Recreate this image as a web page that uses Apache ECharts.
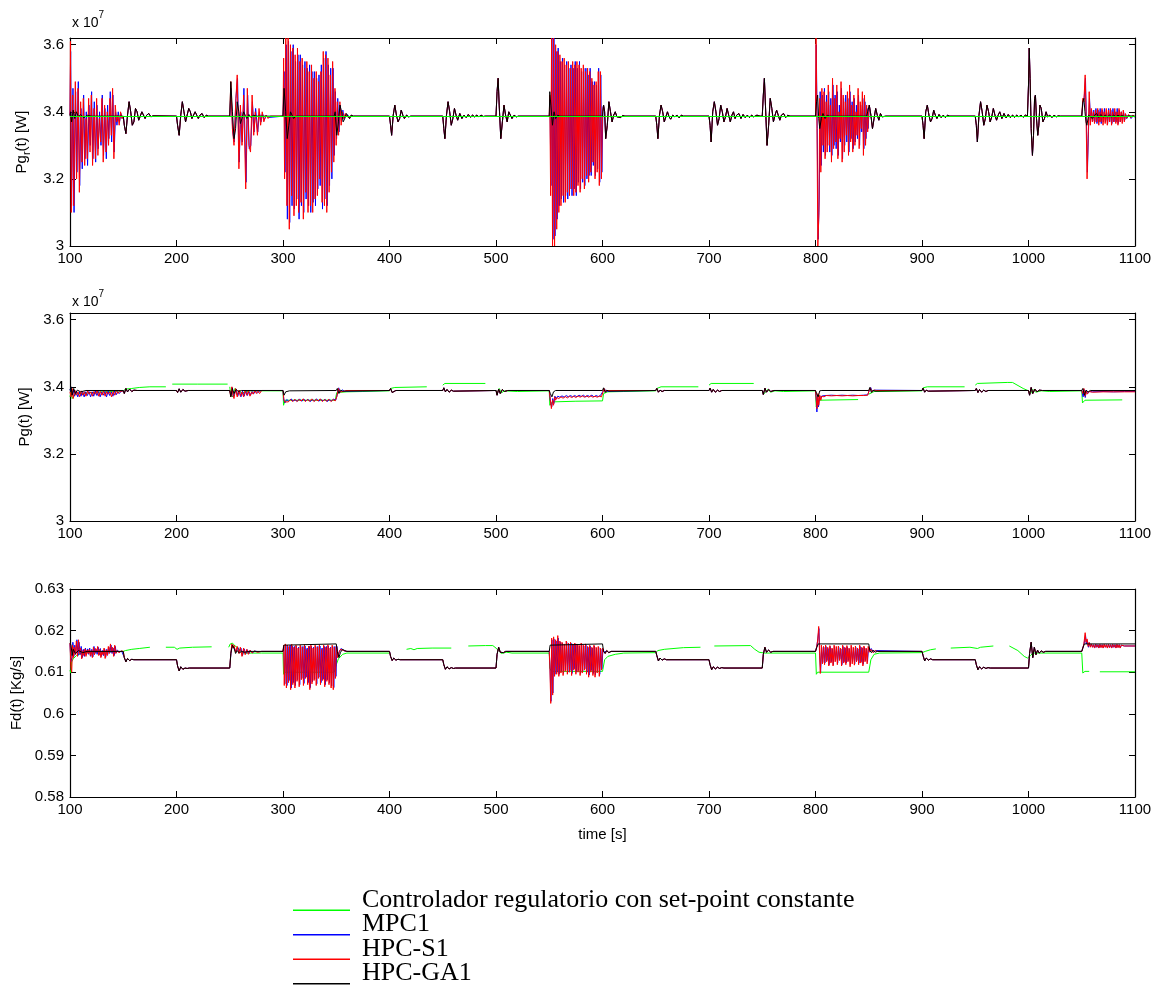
<!DOCTYPE html>
<html>
<head>
<meta charset="utf-8">
<script src="https://cdn.jsdelivr.net/npm/echarts@6/dist/echarts.min.js"></script>
<style>
  html, body { margin: 0; padding: 0; background: #fff; }
  #chart { width: 1164px; height: 1002px; }
</style>
</head>
<body>
<div id="chart"></div>
<script>
var seriesNames = ['Controlador regulatorio con set-point constante', 'MPC1', 'HPC-S1', 'HPC-GA1'];
var seriesColors = ['#00ff00', '#0000ff', '#ff0000', '#000000'];
var xTicks = [100, 200, 300, 400, 500, 600, 700, 800, 900, 1000, 1100];

// ---- Pg_r(t), values in 1e7 W ----
var pgrGreen = [[100, 3.386], [1100, 3.386]];
var pgrBlack = [[100,3.387],[100.5,3.40],[101.5,3.37],[103,3.405],[104.5,3.38],[106,3.40],[108,3.385],[110,3.392],[113,3.382],[116,3.39],[120,3.387],[150,3.387],[151,3.36],[152.5,3.335],[154,3.39],[155.5,3.43],[157,3.40],[158.5,3.36],[160,3.37],[161.5,3.41],[163,3.40],[164.5,3.375],[166,3.38],[167.5,3.40],[169,3.395],[170.5,3.38],[172,3.39],[174,3.395],[176,3.385],[178,3.388],[200,3.387],[201,3.36],[202.5,3.33],[204,3.39],[205.5,3.43],[207,3.40],[208.5,3.37],[210,3.375],[211.5,3.41],[213,3.40],[214.5,3.38],[216,3.38],[217.5,3.40],[219,3.39],[220.5,3.38],[222,3.39],[224,3.395],[226,3.383],[228,3.39],[230,3.387],[250,3.387],[251,3.49],[252.5,3.40],[254,3.32],[255.5,3.35],[257,3.43],[258.5,3.40],[260,3.365],[261.5,3.38],[263,3.40],[264.5,3.39],[266,3.38],[268,3.392],[270,3.383],[272,3.39],[275,3.387],[300,3.387],[301,3.47],[302.5,3.40],[304,3.32],[305.5,3.36],[307,3.40],[308.5,3.395],[310,3.38],[312,3.387],[348,3.387],[349,3.40],[350.5,3.33],[352,3.37],[353.5,3.42],[355,3.40],[356.5,3.37],[358,3.38],[359.5,3.395],[361,3.39],[362.5,3.38],[364,3.39],[366,3.387],[400,3.387],[401,3.36],[402,3.33],[403.5,3.39],[405,3.42],[406.5,3.39],[408,3.37],[409.5,3.38],[411,3.405],[412.5,3.39],[414,3.38],[416,3.39],[418,3.385],[420,3.387],[450,3.387],[451,3.35],[452,3.32],[453.5,3.39],[455,3.43],[456.5,3.40],[458,3.36],[459.5,3.38],[461,3.41],[462.5,3.39],[464,3.375],[466,3.395],[468,3.38],[470,3.39],[472,3.383],[474,3.392],[476,3.384],[478,3.39],[480,3.385],[482,3.39],[484,3.385],[486,3.39],[488,3.386],[490,3.387],[500,3.387],[501,3.46],[502,3.50],[503,3.42],[504.5,3.32],[506,3.37],[507.5,3.42],[509,3.39],[510.5,3.37],[512,3.40],[513.5,3.395],[515,3.38],[517,3.39],[519,3.385],[521,3.387],[550,3.387],[550.5,3.46],[551.5,3.42],[553,3.36],[554.5,3.40],[556,3.38],[558,3.39],[560,3.387],[600,3.387],[601,3.42],[602,3.40],[603,3.32],[604.5,3.36],[606,3.43],[607.5,3.40],[609,3.37],[610.5,3.39],[612,3.40],[613.5,3.385],[615,3.39],[617,3.383],[619,3.389],[621,3.387],[650,3.387],[651,3.36],[652,3.32],[653.5,3.39],[655,3.42],[656.5,3.40],[658,3.37],[659.5,3.385],[661,3.40],[662.5,3.385],[664,3.378],[666,3.39],[668,3.385],[670,3.39],[672,3.382],[674,3.39],[676,3.387],[700,3.387],[701,3.36],[702,3.31],[703.5,3.40],[705,3.43],[706.5,3.40],[708,3.36],[709.5,3.38],[711,3.42],[712.5,3.40],[714,3.37],[715.5,3.385],[717,3.41],[718.5,3.39],[720,3.37],[721.5,3.39],[723,3.40],[724.5,3.38],[726,3.39],[728,3.395],[730,3.38],[732,3.392],[734,3.383],[736,3.39],[738,3.383],[740,3.39],[742,3.385],[745,3.39],[748,3.387],[750,3.387],[751,3.45],[752,3.50],[753,3.42],[754.5,3.30],[756,3.36],[757.5,3.44],[759,3.41],[760.5,3.37],[762,3.39],[763.5,3.405],[765,3.39],[766.5,3.375],[768,3.39],[770,3.395],[772,3.383],[774,3.39],[776,3.387],[800,3.387],[801,3.43],[802,3.45],[803,3.38],[804,3.35],[805.5,3.38],[807,3.395],[809,3.38],[811,3.39],[813,3.387],[848,3.387],[849,3.40],[850.5,3.42],[852,3.39],[853.5,3.35],[855,3.38],[856.5,3.41],[858,3.39],[859.5,3.375],[861,3.395],[862.5,3.385],[864,3.39],[866,3.387],[900,3.387],[901,3.36],[902,3.32],[903.5,3.40],[905,3.42],[906.5,3.39],[908,3.37],[909.5,3.38],[911,3.405],[912.5,3.39],[914,3.38],[916,3.392],[918,3.383],[920,3.39],[922,3.383],[924,3.39],[926,3.387],[950,3.387],[951,3.36],[952,3.31],[953.5,3.39],[955,3.43],[956.5,3.40],[958,3.36],[959.5,3.38],[961,3.42],[962.5,3.40],[964,3.37],[965.5,3.385],[967,3.41],[968.5,3.39],[970,3.375],[971.5,3.39],[973,3.40],[975,3.38],[977,3.395],[979,3.382],[981,3.392],[983,3.383],[985,3.39],[987,3.384],[989,3.39],[991,3.385],[993,3.39],[995,3.384],[997,3.39],[999,3.387],[1000,3.48],[1000.7,3.59],[1001.5,3.50],[1002.5,3.35],[1003.7,3.27],[1004.7,3.33],[1005.7,3.44],[1006.5,3.45],[1007.5,3.38],[1008.7,3.33],[1009.7,3.36],[1010.7,3.42],[1012,3.41],[1013.5,3.37],[1015,3.38],[1016.5,3.40],[1018,3.385],[1020,3.39],[1022,3.383],[1024,3.39],[1026,3.385],[1028,3.388],[1030,3.387],[1050,3.387],[1051,3.43],[1052,3.44],[1053,3.40],[1054,3.37],[1054.8,3.36],[1056.5,3.39],[1058,3.395],[1060,3.38],[1062,3.39],[1064,3.395],[1066,3.383],[1068,3.392],[1070,3.384],[1072,3.39],[1074,3.385],[1076,3.39],[1078,3.385],[1080,3.39],[1082,3.385],[1084,3.39],[1086,3.386],[1088,3.389],[1090,3.386],[1095,3.388],[1100,3.387]];

var pgrRedBursts = [
  [[100,3.39],[100.4,3.61],[101.2,3.10],[102.5,3.45],[103.5,3.12],[105,3.49],[106.2,3.20],[107.5,3.47],[108.8,3.16],[110,3.43],[111.2,3.25],[112.5,3.44],[113.8,3.24],[115,3.38],[116.2,3.26],[117.5,3.44],[118.8,3.28],[120,3.45],[121.2,3.24],[122.5,3.41],[123.8,3.26],[125,3.44],[126.2,3.27],[127.5,3.38],[128.8,3.31],[130,3.44],[131.2,3.25],[132.5,3.42],[133.8,3.28],[135,3.40],[136.2,3.30],[137.5,3.44],[138.8,3.33],[140,3.47],[141.2,3.26],[142.5,3.42],[143.8,3.37],[145,3.39],[146.2,3.36],[147.5,3.40],[148.8,3.38],[150,3.387]],
  [[250,3.387],[251,3.49],[252.5,3.35],[254,3.30],[255.5,3.42],[257,3.51],[258.6,3.23],[260,3.42],[261.5,3.30],[263,3.45],[265,3.17],[266.5,3.47],[268,3.30],[269.5,3.28],[271,3.45],[272.5,3.33],[274,3.40],[276,3.33],[277.5,3.41],[279,3.36],[280.5,3.40],[282,3.37],[284,3.39],[286,3.38],[288,3.387]],
  [[300,3.387],[300.6,3.56],[301.5,3.20],[302.6,3.62],[303.7,3.12],[304.8,3.62],[305.9,3.05],[307,3.60],[308.1,3.15],[309.2,3.59],[310.3,3.09],[311.4,3.57],[312.5,3.12],[313.6,3.59],[314.7,3.10],[315.8,3.55],[316.9,3.13],[318,3.56],[319.1,3.08],[320.2,3.53],[321.3,3.16],[322.4,3.55],[323.5,3.10],[324.6,3.52],[325.7,3.12],[326.8,3.54],[327.9,3.10],[329,3.50],[330.1,3.14],[331.2,3.52],[332.3,3.15],[333.4,3.49],[334.5,3.20],[335.6,3.52],[336.7,3.13],[337.8,3.58],[338.9,3.12],[340,3.57],[341.1,3.10],[342.2,3.56],[343.3,3.16],[344.4,3.51],[345.5,3.22],[346.6,3.55],[347.7,3.25],[348.8,3.47],[349.9,3.30],[351,3.43],[352.2,3.33],[353.4,3.43],[354.6,3.36],[355.8,3.40],[357,3.38],[358.5,3.395],[360,3.387]],
  [[550,3.387],[550.5,3.45],[551.3,3.15],[552.2,3.62],[553.1,3.0],[554,3.62],[555,3.0],[556,3.60],[557,3.05],[558,3.58],[559,3.10],[560,3.57],[561,3.12],[562,3.55],[563,3.15],[564,3.56],[565,3.13],[566,3.54],[567,3.16],[568,3.55],[569,3.15],[570,3.53],[571,3.17],[572,3.55],[573,3.15],[574,3.54],[575,3.16],[576,3.55],[577,3.18],[578,3.54],[579,3.16],[580,3.53],[581,3.20],[582,3.54],[583,3.17],[584,3.52],[585,3.21],[586,3.53],[587,3.19],[588,3.52],[589,3.22],[590,3.50],[591,3.25],[592,3.48],[593,3.20],[594,3.49],[595,3.22],[596,3.52],[597,3.18],[598,3.52],[599,3.20],[600,3.40]],
  [[800,3.387],[800.5,3.62],[801.3,3.40],[802.2,3.00],[803.2,3.10],[804,3.44],[805,3.22],[806,3.47],[807,3.30],[808,3.46],[809,3.26],[810,3.43],[811,3.28],[812,3.48],[813,3.30],[814,3.42],[815,3.25],[816,3.50],[817,3.29],[818,3.44],[819,3.31],[820,3.48],[821,3.26],[822,3.40],[823,3.32],[824,3.49],[825,3.25],[826,3.45],[827,3.28],[828,3.43],[829,3.33],[830,3.46],[831,3.27],[832,3.48],[833,3.31],[834,3.42],[835,3.28],[836,3.45],[837,3.30],[838,3.40],[839,3.33],[840,3.47],[841,3.29],[842,3.43],[843,3.35],[844,3.46],[845,3.27],[846,3.45],[847,3.30],[848,3.42],[849,3.34],[850,3.40]],
  [[1050,3.387],[1051,3.44],[1052,3.43],[1053.2,3.51],[1054,3.40],[1055,3.20],[1056,3.32],[1057,3.46],[1058,3.36],[1059,3.41],[1060,3.37],[1061,3.40],[1062,3.365],[1063,3.405],[1064,3.37],[1065,3.41],[1066,3.36],[1067,3.40],[1068,3.37],[1069,3.41],[1070,3.36],[1071,3.40],[1072,3.365],[1073,3.41],[1074,3.36],[1075,3.405],[1076,3.37],[1077,3.41],[1078,3.36],[1079,3.40],[1080,3.37],[1081,3.41],[1082,3.365],[1083,3.40],[1084,3.36],[1085,3.41],[1086,3.37],[1087,3.40],[1088,3.365],[1089,3.405],[1090,3.37],[1091,3.395],[1092,3.38],[1094,3.392],[1096,3.382],[1098,3.39],[1100,3.385]]
];

var pgrBlueBursts = [
  [[100,3.39],[100.6,3.58],[101.5,3.12],[102.8,3.47],[103.8,3.10],[105.3,3.46],[106.5,3.22],[107.8,3.49],[109.1,3.18],[110.3,3.41],[111.5,3.23],[112.8,3.45],[114.1,3.26],[115.3,3.40],[116.5,3.24],[117.8,3.42],[119.1,3.30],[120.3,3.46],[121.5,3.26],[122.8,3.43],[124.1,3.25],[125.3,3.42],[126.5,3.29],[127.8,3.40],[129.1,3.30],[130.3,3.45],[131.5,3.27],[132.8,3.41],[134.1,3.26],[135.3,3.42],[136.5,3.32],[137.8,3.46],[139.1,3.31],[140.3,3.45],[141.5,3.28],[142.8,3.40],[144.1,3.36],[145.3,3.40],[146.5,3.37],[147.8,3.395],[149,3.38],[150,3.387]],
  [[250,3.387],[251.2,3.47],[252.8,3.34],[254.3,3.31],[255.8,3.44],[257.3,3.50],[258.9,3.25],[260.3,3.40],[261.8,3.31],[263.3,3.47],[265.3,3.19],[266.8,3.45],[268.3,3.29],[269.8,3.30],[271.3,3.43],[272.8,3.34],[274.3,3.41],[276.3,3.34],[277.8,3.40],[279.3,3.37],[280.8,3.395],[282.3,3.375],[284.3,3.39],[286.3,3.383],[288,3.387]],
  [[300,3.387],[301,3.52],[301.9,3.22],[303,3.60],[304.1,3.08],[305.2,3.61],[306.3,3.07],[307.4,3.58],[308.5,3.12],[309.6,3.60],[310.7,3.11],[311.8,3.55],[312.9,3.14],[314,3.57],[315.1,3.08],[316.2,3.57],[317.3,3.12],[318.4,3.54],[319.5,3.10],[320.6,3.55],[321.7,3.14],[322.8,3.53],[323.9,3.12],[325,3.54],[326.1,3.10],[327.2,3.52],[328.3,3.13],[329.4,3.52],[330.5,3.12],[331.6,3.50],[332.7,3.17],[333.8,3.51],[334.9,3.18],[336,3.54],[337.1,3.11],[338.2,3.56],[339.3,3.14],[340.4,3.58],[341.5,3.12],[342.6,3.54],[343.7,3.18],[344.8,3.53],[345.9,3.20],[347,3.53],[348.1,3.27],[349.2,3.46],[350.3,3.32],[351.4,3.44],[352.6,3.34],[353.8,3.42],[355,3.37],[356.2,3.405],[357.4,3.38],[358.9,3.39],[360,3.387]],
  [[550,3.387],[550.7,3.43],[551.6,3.18],[552.5,3.62],[553.5,3.02],[554.4,3.62],[555.4,3.03],[556.4,3.58],[557.4,3.08],[558.4,3.59],[559.4,3.12],[560.4,3.55],[561.4,3.14],[562.4,3.56],[563.4,3.13],[564.4,3.54],[565.4,3.15],[566.4,3.55],[567.4,3.14],[568.4,3.53],[569.4,3.17],[570.4,3.54],[571.4,3.15],[572.4,3.53],[573.4,3.17],[574.4,3.55],[575.4,3.15],[576.4,3.53],[577.4,3.19],[578.4,3.55],[579.4,3.17],[580.4,3.52],[581.4,3.19],[582.4,3.53],[583.4,3.18],[584.4,3.53],[585.4,3.20],[586.4,3.51],[587.4,3.21],[588.4,3.53],[589.4,3.21],[590.4,3.49],[591.4,3.24],[592.4,3.49],[593.4,3.21],[594.4,3.48],[595.4,3.23],[596.4,3.53],[597.4,3.19],[598.4,3.51],[599.4,3.22],[600.4,3.41]],
  [[800,3.387],[800.7,3.60],[801.6,3.35],[802.5,3.02],[803.5,3.14],[804.4,3.46],[805.4,3.24],[806.4,3.45],[807.4,3.28],[808.4,3.47],[809.4,3.27],[810.4,3.45],[811.4,3.30],[812.4,3.46],[813.4,3.28],[814.4,3.44],[815.4,3.27],[816.4,3.48],[817.4,3.30],[818.4,3.45],[819.4,3.29],[820.4,3.46],[821.4,3.27],[822.4,3.42],[823.4,3.31],[824.4,3.47],[825.4,3.26],[826.4,3.44],[827.4,3.30],[828.4,3.45],[829.4,3.31],[830.4,3.44],[831.4,3.28],[832.4,3.46],[833.4,3.32],[834.4,3.43],[835.4,3.29],[836.4,3.44],[837.4,3.31],[838.4,3.42],[839.4,3.32],[840.4,3.45],[841.4,3.30],[842.4,3.42],[843.4,3.34],[844.4,3.44],[845.4,3.29],[846.4,3.43],[847.4,3.32],[848.4,3.41],[849.4,3.35],[850.4,3.41]],
  [[1050,3.387],[1051.2,3.43],[1052.3,3.44],[1053.5,3.50],[1054.3,3.38],[1055.3,3.22],[1056.3,3.34],[1057.3,3.44],[1058.3,3.37],[1059.3,3.405],[1060.3,3.372],[1061.3,3.405],[1062.3,3.37],[1063.3,3.41],[1064.3,3.365],[1065.3,3.405],[1066.3,3.37],[1067.3,3.41],[1068.3,3.365],[1069.3,3.405],[1070.3,3.37],[1071.3,3.41],[1072.3,3.37],[1073.3,3.40],[1074.3,3.365],[1075.3,3.41],[1076.3,3.37],[1077.3,3.405],[1078.3,3.365],[1079.3,3.41],[1080.3,3.37],[1081.3,3.40],[1082.3,3.37],[1083.3,3.41],[1084.3,3.365],[1085.3,3.405],[1086.3,3.37],[1087.3,3.40],[1088.3,3.37],[1089.3,3.40],[1090.3,3.375],[1091.3,3.392],[1092.3,3.38],[1094.3,3.39],[1096.3,3.38],[1098.3,3.388],[1100,3.384]]
];

// ---- Pg(t), values in 1e7 W ----
var pgBlack = [[100,3.39],[101,3.40],[102,3.375],[103.5,3.395],[105,3.38],[107,3.39],[110,3.385],[115,3.389],[150,3.389],[151,3.38],[152.5,3.395],[154,3.385],[156,3.393],[158,3.386],[160,3.39],[163,3.389],[200,3.389],[201,3.383],[202.5,3.394],[204,3.384],[206,3.392],[208,3.387],[211,3.389],[250,3.389],[251,3.37],[252.5,3.395],[254,3.38],[256,3.392],[258,3.386],[261,3.389],[300,3.389],[301,3.375],[302.5,3.385],[304,3.38],[306,3.388],[350,3.389],[351,3.395],[352.5,3.38],[354,3.39],[356,3.387],[400,3.389],[401,3.395],[402.5,3.383],[404,3.385],[406,3.389],[450,3.389],[451,3.397],[452.5,3.385],[454,3.392],[456,3.384],[458,3.39],[460,3.387],[500,3.389],[501,3.375],[502.5,3.393],[504,3.38],[506,3.392],[508,3.386],[511,3.389],[550,3.389],[551,3.38],[552.5,3.37],[554,3.385],[556,3.389],[600,3.389],[601,3.397],[602.5,3.383],[604,3.39],[606,3.387],[650,3.389],[651,3.395],[652.5,3.384],[654,3.39],[656,3.386],[658,3.389],[700,3.389],[701,3.396],[702.5,3.384],[704,3.392],[706,3.384],[708,3.39],[710,3.386],[712,3.389],[750,3.389],[751,3.377],[752.5,3.396],[754,3.384],[756,3.392],[758,3.386],[761,3.389],[800,3.389],[801,3.38],[802.5,3.37],[804,3.388],[806,3.389],[850,3.389],[851,3.398],[852.5,3.383],[854,3.39],[856,3.387],[900,3.389],[901,3.396],[902.5,3.384],[904,3.39],[906,3.387],[950,3.389],[951,3.395],[952.5,3.383],[954,3.392],[956,3.384],[958,3.39],[960,3.386],[962,3.389],[1000,3.389],[1001,3.375],[1002.5,3.398],[1004,3.38],[1006,3.393],[1008,3.385],[1010,3.39],[1013,3.389],[1050,3.389],[1051,3.395],[1052.5,3.375],[1054,3.39],[1056,3.385],[1058,3.389],[1100,3.389]];

var pgGreen = [[100,3.37],[101,3.385],[102,3.365],[104,3.375],[107,3.38],[112,3.38],[120,3.383],[130,3.385],[140,3.386],[150,3.388],[152,3.393],[158,3.395],[165,3.398],[175,3.40],[190,3.40],[192,null],[196,3.408],[220,3.408],[248,3.408],[249,null],[250,3.40],[251,3.375],[253,3.37],[255,3.395],[257,3.375],[259,3.39],[261,3.38],[264,3.385],[270,3.388],[300,3.388],[300.5,3.345],[302,3.36],[349,3.36],[350.5,3.383],[360,3.385],[375,3.386],[400,3.388],[401,3.395],[405,3.398],[435,3.40],[436,null],[450,3.405],[452,3.41],[490,3.41],[491,null],[500,3.39],[501,3.38],[503,3.395],[505,3.382],[508,3.388],[520,3.386],[550,3.388],[550.5,3.345],[553,3.355],[575,3.357],[600,3.358],[601,3.38],[605,3.385],[620,3.386],[650,3.388],[651,3.395],[655,3.40],[690,3.40],[691,null],[700,3.405],[702,3.41],[742,3.41],[743,null],[750,3.388],[752,3.38],[755,3.392],[758,3.384],[762,3.388],[770,3.386],[800,3.388],[800.7,3.34],[803,3.36],[840,3.362],[841,null],[850,3.378],[855,3.386],[900,3.388],[901,3.397],[905,3.40],[940,3.40],[941,null],[950,3.405],[952,3.41],[980,3.413],[985,3.413],[995,3.395],[1000,3.388],[1002,3.38],[1004,3.392],[1007,3.384],[1012,3.388],[1020,3.386],[1050,3.388],[1050.7,3.352],[1053,3.36],[1088,3.361]];

var pgRedBursts = [
  [[100,3.385],[101,3.37],[102,3.395],[103,3.365],[104.5,3.39],[106,3.375],[107.5,3.385],[109,3.37],[110.5,3.388],[112,3.375],[113.5,3.385],[115,3.372],[116.5,3.388],[118,3.378],[119.5,3.385],[121,3.372],[122.5,3.386],[124,3.378],[125.5,3.39],[127,3.372],[128.5,3.386],[130,3.375],[131.5,3.388],[133,3.372],[134.5,3.386],[136,3.378],[137.5,3.385],[139,3.37],[140.5,3.386],[142,3.375],[143.5,3.39],[145,3.38],[146.5,3.386],[148,3.382],[150,3.388]],
  [[250,3.389],[251,3.37],[252,3.40],[253,3.375],[254,3.365],[255.5,3.395],[257,3.37],[258.5,3.39],[260,3.372],[261.5,3.385],[263,3.37],[264.5,3.39],[266,3.375],[267.5,3.388],[269,3.372],[270.5,3.385],[272,3.378],[273.5,3.39],[275,3.38],[276.5,3.387],[278,3.38],[280,3.389]],
  [[300,3.389],[300.7,3.365],[301.5,3.355],[303,3.36],[305,3.355],[307,3.362],[309,3.356],[311,3.363],[313,3.356],[315,3.362],[317,3.358],[319,3.364],[321,3.356],[323,3.362],[325,3.357],[327,3.364],[329,3.356],[331,3.362],[333,3.358],[335,3.364],[337,3.356],[339,3.362],[341,3.357],[343,3.363],[345,3.356],[347,3.362],[349,3.358],[350.5,3.37],[352,3.395],[353.5,3.385],[355,3.39],[357,3.386],[359,3.389]],
  [[550,3.389],[551,3.36],[552,3.335],[553,3.36],[554,3.345],[555,3.37],[556,3.36],[557,3.368],[559,3.365],[561,3.37],[563,3.366],[565,3.371],[567,3.367],[569,3.372],[571,3.368],[573,3.372],[575,3.368],[577,3.373],[579,3.369],[581,3.373],[583,3.369],[585,3.373],[587,3.369],[589,3.373],[591,3.369],[593,3.372],[595,3.369],[597,3.372],[599,3.37],[600.5,3.385],[601.5,3.395],[603,3.386],[605,3.389]],
  [[800,3.389],[800.8,3.36],[801.5,3.335],[802.3,3.38],[803,3.345],[804,3.375],[805,3.36],[806,3.372],[808,3.37],[810,3.374],[815,3.373],[820,3.374],[825,3.373],[830,3.374],[835,3.373],[840,3.374],[845,3.374],[849,3.375],[850.5,3.39],[851.5,3.397],[853,3.385],[855,3.39],[857,3.389]],
  [[1050,3.389],[1051,3.38],[1052,3.395],[1053,3.372],[1054,3.388],[1055,3.378],[1057,3.386],[1060,3.384],[1070,3.385],[1080,3.385],[1090,3.385],[1100,3.385]]
];

var pgBlueBursts = [
  [[100,3.39],[100.8,3.398],[101.8,3.375],[103,3.39],[104.3,3.372],[105.8,3.388],[107.3,3.37],[108.8,3.385],[110.3,3.372],[111.8,3.386],[113.3,3.37],[114.8,3.385],[116.3,3.374],[117.8,3.386],[119.3,3.37],[120.8,3.385],[122.3,3.372],[123.8,3.388],[125.3,3.374],[126.8,3.386],[128.3,3.37],[129.8,3.385],[131.3,3.375],[132.8,3.386],[134.3,3.37],[135.8,3.387],[137.3,3.374],[138.8,3.385],[140.3,3.372],[141.8,3.388],[143.3,3.376],[144.8,3.386],[146.3,3.38],[147.8,3.386],[150,3.388]],
  [[250,3.389],[251.2,3.375],[252.3,3.398],[253.4,3.37],[254.5,3.368],[256,3.392],[257.5,3.372],[259,3.388],[260.5,3.37],[262,3.387],[263.5,3.372],[265,3.388],[266.5,3.374],[268,3.386],[269.5,3.375],[271,3.386],[272.5,3.379],[274,3.388],[276,3.382],[278,3.387],[280,3.389]],
  [[300,3.389],[300.8,3.36],[301.8,3.352],[303.5,3.362],[305.5,3.357],[307.5,3.364],[309.5,3.358],[311.5,3.361],[313.5,3.357],[315.5,3.364],[317.5,3.357],[319.5,3.363],[321.5,3.358],[323.5,3.363],[325.5,3.356],[327.5,3.362],[329.5,3.358],[331.5,3.364],[333.5,3.357],[335.5,3.362],[337.5,3.358],[339.5,3.363],[341.5,3.356],[343.5,3.362],[345.5,3.358],[347.5,3.363],[349.5,3.36],[350.8,3.375],[352.3,3.397],[353.8,3.384],[355.5,3.391],[357.5,3.387],[359,3.389]],
  [[550,3.389],[551.2,3.355],[552.3,3.34],[553.3,3.365],[554.3,3.35],[555.3,3.372],[556.5,3.364],[558,3.372],[560,3.369],[562,3.373],[564,3.369],[566,3.374],[568,3.37],[570,3.374],[572,3.37],[574,3.374],[576,3.37],[578,3.375],[580,3.371],[582,3.375],[584,3.37],[586,3.374],[588,3.371],[590,3.375],[592,3.37],[594,3.374],[596,3.371],[598,3.374],[599.5,3.372],[600.8,3.388],[601.8,3.394],[603.3,3.386],[605,3.389]],
  [[800,3.389],[800.6,3.37],[801.3,3.325],[802,3.372],[802.8,3.34],[803.8,3.368],[805,3.365],[806.5,3.373],[810,3.374],[815,3.375],[820,3.374],[825,3.375],[830,3.374],[835,3.375],[840,3.374],[845,3.375],[849,3.376],[850.8,3.392],[851.8,3.398],[853.3,3.386],[855.3,3.39],[857,3.389]],
  [[1050,3.389],[1051.3,3.37],[1052.3,3.392],[1053.3,3.368],[1054.3,3.39],[1055.5,3.38],[1057.5,3.386],[1060,3.385],[1070,3.386],[1080,3.385],[1090,3.386],[1100,3.386]]
];

// ---- Fd(t), Kg/s ----
var fdBlack = [[100,0.617],[101,0.6165],[102,0.614],[103,0.6155],[105,0.6145],[108,0.6152],[112,0.6147],[116,0.615],[150,0.615],[151,0.6135],[152.5,0.6125],[154,0.6133],[156,0.6128],[158,0.6131],[160,0.613],[200,0.613],[201,0.6115],[202.5,0.6103],[204,0.6113],[206,0.6107],[208,0.611],[210,0.6109],[212,0.611],[250,0.611],[251,0.6145],[252.5,0.6165],[254,0.6158],[255.5,0.6145],[257,0.6152],[259,0.6146],[261,0.615],[264,0.6148],[268,0.615],[300,0.615],[300.8,0.6165],[302,0.6168],[350,0.6168],[351,0.615],[352.5,0.6135],[354,0.6148],[356,0.6155],[358,0.6152],[360,0.615],[400,0.615],[401,0.6138],[402.5,0.6128],[404,0.6134],[406,0.6129],[408,0.6131],[410,0.613],[450,0.613],[451,0.6118],[452.5,0.6107],[454,0.6113],[456,0.6108],[458,0.6111],[460,0.6109],[462,0.611],[500,0.611],[501,0.6143],[502.5,0.616],[504,0.6148],[505.5,0.6152],[507,0.6147],[509,0.615],[550,0.615],[550.8,0.6165],[552,0.6168],[600,0.6168],[601,0.615],[602.5,0.6145],[604,0.6152],[606,0.6147],[608,0.615],[650,0.615],[651,0.614],[652.5,0.6127],[654,0.6134],[656,0.6129],[658,0.6132],[660,0.613],[700,0.613],[701,0.6118],[702.5,0.6106],[704,0.6113],[706,0.6108],[708,0.6112],[710,0.6109],[712,0.6111],[714,0.611],[750,0.611],[751,0.6143],[752.5,0.616],[754,0.6148],[756,0.6153],[758,0.6148],[760,0.615],[800,0.615],[801,0.6158],[802.5,0.6168],[850,0.6168],[851,0.6152],[852.5,0.6147],[854,0.6153],[856,0.6148],[858,0.615],[900,0.615],[901,0.614],[902.5,0.6127],[904,0.6134],[906,0.6129],[908,0.6132],[910,0.613],[950,0.613],[951,0.6118],[952.5,0.6106],[954,0.6113],[956,0.6108],[958,0.6112],[960,0.6109],[962,0.6111],[964,0.611],[1000,0.611],[1001,0.6145],[1002.5,0.6172],[1004,0.6135],[1005.5,0.616],[1007,0.6142],[1008.5,0.6153],[1010,0.6146],[1012,0.6151],[1014,0.6148],[1016,0.615],[1050,0.615],[1051,0.6158],[1052.5,0.6168],[1100,0.6168]];

var fdGreen = [[100,0.6105],[100.7,0.6098],[101.5,0.6125],[103,0.6132],[106,0.614],[110,0.6145],[120,0.6148],[150,0.615],[152,0.6152],[158,0.6155],[165,0.6157],[175,0.616],[176,null],[190,0.616],[198,0.616],[200.5,0.6155],[203,0.6158],[215,0.616],[233,0.6161],[234,null],[249,0.616],[250.5,0.6168],[252.5,0.617],[255,0.6163],[258,0.6158],[261,0.6148],[264,0.6146],[280,0.6146],[300,0.6146],[300.5,0.6095],[302,0.61],[348,0.61],[350,0.6118],[352,0.6132],[356,0.6143],[360,0.6146],[400,0.6146],[401,null],[416,0.6155],[420,0.6157],[423,0.6154],[426,0.6157],[440,0.6158],[458,0.6158],[459,null],[474,0.6163],[490,0.6164],[497,0.6164],[500,0.6158],[503,0.615],[505,0.6145],[510,0.6148],[515,0.6146],[550,0.6146],[550.5,0.611],[552,0.6102],[600,0.6102],[602,0.613],[605,0.6138],[612,0.6143],[620,0.6146],[650,0.6147],[652,0.6152],[658,0.6155],[676,0.6159],[692,0.616],[693,null],[705,0.6163],[739,0.6164],[743,0.6155],[747,0.6148],[752,0.6146],[800,0.6146],[800.8,0.6095],[802,0.61],[850,0.61],[852,0.613],[855,0.6143],[860,0.6146],[900,0.6147],[903,0.615],[908,0.6154],[913,0.6156],[914,null],[927,0.6158],[945,0.616],[952,0.6157],[955,0.616],[967,0.6163],[968,null],[982,0.6163],[990,0.6152],[996,0.6138],[999,0.6134],[1000,0.6132],[1002,0.614],[1004,0.6146],[1050,0.6146],[1051,0.6098],[1053,0.6102],[1057,0.6102],[1058,null],[1067,0.6101],[1100,0.6101]];

var fdRedBursts = [
  [[100,0.617],[100.8,0.6115],[101.6,0.61],[102.4,0.6165],[103.2,0.6135],[104,0.616],[105,0.6142],[106,0.6175],[107,0.6138],[108,0.6178],[109,0.6145],[110,0.6158],[111,0.6132],[112,0.6152],[113,0.614],[114,0.6156],[115,0.6138],[116,0.6153],[117,0.6145],[118,0.6155],[119,0.614],[120,0.6152],[121,0.6135],[122,0.616],[123,0.6142],[124,0.6157],[125,0.6148],[126,0.6162],[127,0.614],[128,0.6155],[129,0.6135],[130,0.615],[131,0.6142],[132,0.6158],[133,0.6133],[134,0.6153],[135,0.614],[136,0.6162],[137,0.6145],[138,0.6168],[139,0.6148],[140,0.616],[141,0.6138],[142,0.6165],[143,0.6145],[144,0.6152],[146,0.6147],[148,0.6151],[150,0.615]],
  [[250,0.611],[251,0.6145],[252,0.6168],[253,0.6158],[254,0.6165],[255.5,0.6148],[257,0.6162],[258.5,0.6145],[260,0.616],[261.5,0.6138],[263,0.6158],[264.5,0.6142],[266,0.6155],[267.5,0.6143],[269,0.6153],[271,0.6146],[273,0.6151],[276,0.6148],[280,0.615]],
  [[300,0.615],[300.6,0.6165],[301.2,0.6068],[302.2,0.6168],[303.2,0.6062],[304.2,0.6165],[305.2,0.6075],[306.2,0.6162],[307.2,0.6058],[308.2,0.6167],[309.2,0.607],[310.2,0.616],[311.2,0.6062],[312.2,0.6165],[313.2,0.6078],[314.2,0.6158],[315.2,0.6065],[316.2,0.6165],[317.2,0.6082],[318.2,0.616],[319.2,0.6068],[320.2,0.6166],[321.2,0.6085],[322.2,0.6155],[323.2,0.607],[324.2,0.6163],[325.2,0.6058],[326.2,0.6165],[327.2,0.6072],[328.2,0.6158],[329.2,0.608],[330.2,0.6165],[331.2,0.6068],[332.2,0.616],[333.2,0.6085],[334.2,0.6166],[335.2,0.607],[336.2,0.6155],[337.2,0.608],[338.2,0.6165],[339.2,0.6065],[340.2,0.616],[341.2,0.6078],[342.2,0.6166],[343.2,0.607],[344.2,0.6158],[345.2,0.6062],[346.2,0.6165],[347.2,0.6058],[348.2,0.616],[349.2,0.6085],[350.2,0.6165],[351.2,0.6135],[352.5,0.6148],[354,0.6155],[355.5,0.6158],[357,0.6152],[360,0.615]],
  [[550,0.615],[550.6,0.6115],[551.4,0.6025],[552.3,0.6182],[553.2,0.6045],[554.1,0.6185],[555,0.609],[556,0.6178],[557,0.6095],[558,0.6188],[559,0.609],[560,0.6175],[561,0.6098],[562,0.6172],[563,0.6092],[564,0.6168],[565,0.6102],[566,0.6175],[567,0.6095],[568,0.617],[569,0.61],[570,0.6172],[571,0.6092],[572,0.6168],[573,0.6105],[574,0.617],[575,0.6095],[576,0.6168],[577,0.61],[578,0.6165],[579,0.6092],[580,0.617],[581,0.6098],[582,0.6165],[583,0.6105],[584,0.6168],[585,0.6095],[586,0.6162],[587,0.6088],[588,0.6165],[589,0.61],[590,0.616],[591,0.6092],[592,0.6165],[593,0.6088],[594,0.616],[595,0.6098],[596,0.6162],[597,0.609],[598,0.6158],[599,0.6105],[600,0.6158],[601,0.615],[602.5,0.6145],[604,0.6152]],
  [[800,0.615],[801,0.616],[802,0.6175],[803,0.621],[803.8,0.6145],[804.5,0.6097],[805.5,0.6165],[806.5,0.612],[807.5,0.6162],[808.5,0.6118],[809.5,0.6165],[810.5,0.6125],[811.5,0.616],[812.5,0.6115],[813.5,0.6164],[814.5,0.6122],[815.5,0.6158],[816.5,0.6115],[817.5,0.6165],[818.5,0.6125],[819.5,0.6162],[820.5,0.6118],[821.5,0.6163],[822.5,0.6128],[823.5,0.6158],[824.5,0.6115],[825.5,0.6165],[826.5,0.6122],[827.5,0.616],[828.5,0.6118],[829.5,0.6164],[830.5,0.6125],[831.5,0.6158],[832.5,0.6113],[833.5,0.6165],[834.5,0.612],[835.5,0.616],[836.5,0.6117],[837.5,0.6163],[838.5,0.6125],[839.5,0.6158],[840.5,0.6118],[841.5,0.6165],[842.5,0.6122],[843.5,0.616],[844.5,0.6115],[845.5,0.6163],[846.5,0.6125],[847.5,0.6158],[848.5,0.612],[849.5,0.6162],[850.5,0.6148],[852,0.6155],[854,0.6147],[856,0.6152],[858,0.615]],
  [[1050,0.615],[1051,0.6158],[1052,0.6168],[1053.2,0.6195],[1054,0.6172],[1055,0.618],[1056,0.6162],[1057,0.6172],[1058,0.616],[1059,0.6168],[1060,0.616],[1061,0.6166],[1062,0.6158],[1063,0.6167],[1064,0.616],[1065,0.6166],[1066,0.6158],[1067,0.6167],[1068,0.6159],[1069,0.6166],[1070,0.6158],[1071,0.6167],[1072,0.616],[1073,0.6166],[1074,0.6158],[1075,0.6167],[1076,0.6159],[1077,0.6166],[1078,0.6158],[1079,0.6167],[1080,0.616],[1081,0.6166],[1082,0.6158],[1083,0.6167],[1084,0.6159],[1085,0.6166],[1086,0.6158],[1087,0.6165],[1088,0.6162],[1090,0.6163],[1100,0.6163]]
];

var fdBlueBursts = [
  [[100,0.6168],[100.9,0.6125],[101.8,0.6135],[102.7,0.6172],[103.6,0.6138],[104.5,0.6165],[105.5,0.6145],[106.5,0.6178],[107.5,0.614],[108.5,0.6172],[109.5,0.6142],[110.5,0.6162],[111.5,0.6135],[112.5,0.6155],[113.5,0.6138],[114.5,0.6158],[115.5,0.6142],[116.5,0.6156],[117.5,0.6143],[118.5,0.6158],[119.5,0.6138],[120.5,0.6155],[121.5,0.6137],[122.5,0.6162],[123.5,0.6145],[124.5,0.6155],[125.5,0.6143],[126.5,0.616],[127.5,0.6142],[128.5,0.6157],[129.5,0.6138],[130.5,0.6152],[131.5,0.614],[132.5,0.6156],[133.5,0.6136],[134.5,0.6155],[135.5,0.6143],[136.5,0.616],[137.5,0.6147],[138.5,0.6165],[139.5,0.6145],[140.5,0.6158],[141.5,0.614],[142.5,0.6162],[143.5,0.6146],[144.5,0.6153],[146.5,0.6148],[148.5,0.6151],[150,0.615]],
  [[250,0.611],[251.2,0.6148],[252.3,0.6166],[253.4,0.616],[254.5,0.6162],[256,0.615],[257.5,0.616],[259,0.6147],[260.5,0.6158],[262,0.614],[263.5,0.6156],[265,0.6144],[266.5,0.6154],[268,0.6145],[269.5,0.6152],[271.5,0.6147],[273.5,0.6151],[276.5,0.6149],[280,0.615]],
  [[300,0.615],[300.8,0.6162],[301.7,0.6072],[302.7,0.6165],[303.7,0.6068],[304.7,0.6162],[305.7,0.608],[306.7,0.6165],[307.7,0.6062],[308.7,0.6163],[309.7,0.6075],[310.7,0.6162],[311.7,0.6068],[312.7,0.6162],[313.7,0.6082],[314.7,0.616],[315.7,0.607],[316.7,0.6162],[317.7,0.6085],[318.7,0.6162],[319.7,0.6073],[320.7,0.6163],[321.7,0.6088],[322.7,0.6158],[323.7,0.6075],[324.7,0.6162],[325.7,0.6063],[326.7,0.6162],[327.7,0.6077],[328.7,0.616],[329.7,0.6083],[330.7,0.6162],[331.7,0.6072],[332.7,0.6162],[333.7,0.6088],[334.7,0.6163],[335.7,0.6075],[336.7,0.6158],[337.7,0.6083],[338.7,0.6162],[339.7,0.607],[340.7,0.6162],[341.7,0.6082],[342.7,0.6163],[343.7,0.6075],[344.7,0.616],[345.7,0.6067],[346.7,0.6162],[347.7,0.6063],[348.7,0.6162],[349.7,0.609],[350.6,0.6162],[351.6,0.6138],[353,0.615],[354.5,0.6157],[356,0.6156],[357.5,0.6151],[360,0.615]],
  [[550,0.615],[550.8,0.611],[551.6,0.603],[552.5,0.6178],[553.4,0.605],[554.4,0.618],[555.4,0.6095],[556.4,0.6175],[557.4,0.61],[558.4,0.6182],[559.4,0.6095],[560.4,0.6172],[561.4,0.6102],[562.4,0.617],[563.4,0.6097],[564.4,0.6166],[565.4,0.6105],[566.4,0.6172],[567.4,0.61],[568.4,0.6168],[569.4,0.6104],[570.4,0.617],[571.4,0.6097],[572.4,0.6166],[573.4,0.6108],[574.4,0.6168],[575.4,0.61],[576.4,0.6166],[577.4,0.6104],[578.4,0.6163],[579.4,0.6097],[580.4,0.6168],[581.4,0.6102],[582.4,0.6163],[583.4,0.6108],[584.4,0.6166],[585.4,0.61],[586.4,0.616],[587.4,0.6093],[588.4,0.6163],[589.4,0.6104],[590.4,0.6158],[591.4,0.6097],[592.4,0.6163],[593.4,0.6093],[594.4,0.6158],[595.4,0.6102],[596.4,0.616],[597.4,0.6095],[598.4,0.6156],[599.4,0.6108],[600.4,0.6156],[601.4,0.6148],[603,0.6147],[604,0.6151]],
  [[800,0.615],[801.2,0.6162],[802.2,0.618],[803.2,0.6205],[804,0.614],[804.8,0.61],[805.8,0.616],[806.8,0.6123],[807.8,0.616],[808.8,0.6122],[809.8,0.6162],[810.8,0.6128],[811.8,0.6157],[812.8,0.6118],[813.8,0.6162],[814.8,0.6125],[815.8,0.6156],[816.8,0.6118],[817.8,0.6162],[818.8,0.6128],[819.8,0.616],[820.8,0.6122],[821.8,0.616],[822.8,0.6131],[823.8,0.6156],[824.8,0.6118],[825.8,0.6162],[826.8,0.6125],[827.8,0.6158],[828.8,0.6122],[829.8,0.6161],[830.8,0.6128],[831.8,0.6156],[832.8,0.6117],[833.8,0.6162],[834.8,0.6124],[835.8,0.6158],[836.8,0.612],[837.8,0.616],[838.8,0.6128],[839.8,0.6156],[840.8,0.6122],[841.8,0.6162],[842.8,0.6125],[843.8,0.6158],[844.8,0.6119],[845.8,0.616],[846.8,0.6128],[847.8,0.6156],[848.8,0.6124],[849.8,0.616],[850.8,0.6152],[852.3,0.6157],[854.3,0.6148],[856.3,0.6152],[858,0.615]],
  [[1050,0.615],[1051.2,0.616],[1052.3,0.617],[1053.5,0.619],[1054.3,0.6168],[1055.3,0.6176],[1056.3,0.616],[1057.3,0.617],[1058.3,0.6161],[1059.3,0.6167],[1060.3,0.616],[1061.3,0.6166],[1062.3,0.6159],[1063.3,0.6167],[1064.3,0.616],[1065.3,0.6166],[1066.3,0.6159],[1067.3,0.6166],[1068.3,0.616],[1069.3,0.6166],[1070.3,0.6159],[1071.3,0.6166],[1072.3,0.616],[1073.3,0.6166],[1074.3,0.6159],[1075.3,0.6166],[1076.3,0.616],[1077.3,0.6166],[1078.3,0.6159],[1079.3,0.6166],[1080.3,0.616],[1081.3,0.6166],[1082.3,0.6159],[1083.3,0.6166],[1084.3,0.616],[1085.3,0.6166],[1086.3,0.6159],[1087.3,0.6165],[1088.3,0.6162],[1090,0.6163],[1100,0.6163]]
];

// red/blue follow the black trace outside their burst windows
function withBursts(base, bursts) {
  var inside = function (t) {
    return bursts.some(function (b) { return t >= b[0][0] && t <= b[b.length - 1][0]; });
  };
  var pts = base.filter(function (p) { return !inside(p[0]); });
  bursts.forEach(function (b) { pts = pts.concat(b); });
  pts.sort(function (a, b) { return a[0] - b[0]; });
  return pts;
}

var chart = echarts.init(document.getElementById('chart'), null, { renderer: 'canvas' });

var font = 'Liberation Sans, Arial, sans-serif';
var gridTops = [38, 313, 589];
var yRanges = [[3, 3.62, 0.2], [3, 3.62, 0.2], [0.58, 0.63, 0.01]];
var yNames = ['{n|Pg}{s|r}{n|(t) [W]}', '{n|Pg(t) [W]}', '{n|Fd(t) [Kg/s]}'];

var grids = [], xAxes = [], yAxes = [];
gridTops.forEach(function (top, g) {
  grids.push({ left: 70, right: 29, top: top, height: 208, show: false, containLabel: false, outerBoundsMode: 'none' });
  var tick = { inside: true, length: 6, lineStyle: { color: '#000', width: 1 } };
  var line = { show: true, lineStyle: { color: '#000', width: 1.2 } };
  xAxes.push({
    gridIndex: g, type: 'value', min: 100, max: 1100, interval: 100, position: 'bottom',
    axisLine: line, axisTick: tick, splitLine: { show: false },
    axisLabel: { color: '#000', fontSize: 15, fontFamily: font, margin: 5, formatter: function (v) { return String(v); } },
    name: g === 2 ? 'time [s]' : '', nameLocation: 'middle', nameGap: 30,
    nameTextStyle: { color: '#000', fontSize: 15, fontFamily: font }
  });
  xAxes.push({
    gridIndex: g, type: 'value', min: 100, max: 1100, interval: 100, position: 'top',
    axisLine: line, axisTick: tick, splitLine: { show: false }, axisLabel: { show: false }
  });
  var r = yRanges[g];
  yAxes.push({
    gridIndex: g, type: 'value', min: r[0], max: r[1], interval: r[2], position: 'left',
    axisLine: line, axisTick: tick, splitLine: { show: false },
    axisLabel: { color: '#000', fontSize: 15, fontFamily: font, margin: 6, showMaxLabel: g === 2 },
    name: yNames[g], nameLocation: 'middle', nameRotate: 90, nameGap: g === 2 ? 43 : 34,
    nameTextStyle: {
      color: '#000',
      rich: {
        n: { color: '#000', fontSize: 15, fontFamily: font, lineHeight: 20 },
        s: { color: '#000', fontSize: 11, fontFamily: font, lineHeight: 20, verticalAlign: 'bottom' }
      }
    }
  });
  yAxes.push({
    gridIndex: g, type: 'value', min: r[0], max: r[1], interval: r[2], position: 'right',
    axisLine: line, axisTick: tick, splitLine: { show: false }, axisLabel: { show: false }
  });
});

function trace(idx, data, g, z) {
  return {
    name: seriesNames[idx], type: 'line', xAxisIndex: g * 2, yAxisIndex: g * 2,
    data: data, showSymbol: false, symbol: 'none', connectNulls: false, clip: true,
    lineStyle: { color: seriesColors[idx], width: 1 }, itemStyle: { color: seriesColors[idx] },
    z: z, animation: false
  };
}

var series = [
  trace(1, withBursts(pgrBlack, pgrBlueBursts), 0, 2),
  trace(2, withBursts(pgrBlack, pgrRedBursts), 0, 3),
  trace(3, pgrBlack, 0, 4),
  trace(0, pgrGreen, 0, 5),
  trace(0, pgGreen, 1, 2),
  trace(1, withBursts(pgBlack, pgBlueBursts), 1, 3),
  trace(2, withBursts(pgBlack, pgRedBursts), 1, 4),
  trace(3, pgBlack, 1, 5),
  trace(0, fdGreen, 2, 2),
  trace(1, withBursts(fdBlack, fdBlueBursts), 2, 3),
  trace(2, withBursts(fdBlack, fdRedBursts), 2, 4),
  trace(3, fdBlack, 2, 5)
];

var expLabel = { a: { fontSize: 14, fontFamily: font, fill: '#000', padding: [6, 0, 0, 0] }, b: { fontSize: 10, fontFamily: font, fill: '#000', verticalAlign: 'top' } };

var option = {
  backgroundColor: '#fff',
  animation: false,
  grid: grids,
  xAxis: xAxes,
  yAxis: yAxes,
  graphic: [
    { type: 'text', left: 72, top: 10, style: { text: '{a|x 10}{b|7}', rich: expLabel } },
    { type: 'text', left: 72, top: 289, style: { text: '{a|x 10}{b|7}', rich: expLabel } }
  ],
  legend: {
    orient: 'vertical', left: 293, top: 887, height: 200, padding: 0,
    itemWidth: 57, itemHeight: 22, itemGap: -1.5,
    // short line drawn along the bottom of the key box, under the text baseline
    icon: 'path://M0,0 L0.01,0 L0.01,0.01 Z M0,20.5 L57,20.5 L57,22 L0,22 Z',
    selectedMode: false,
    textStyle: { fontFamily: 'Liberation Serif, Times New Roman, serif', fontSize: 26, color: '#000', lineHeight: 22, padding: [0, 0, 0, 7] },
    data: seriesNames
  },
  series: series
};

chart.setOption(option);
</script>
</body>
</html>
